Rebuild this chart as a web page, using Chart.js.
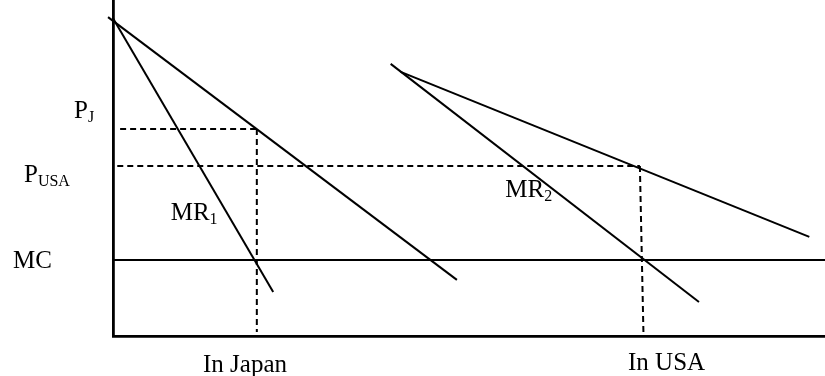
<!DOCTYPE html>
<html>
<head>
<meta charset="utf-8">
<script src="https://cdn.jsdelivr.net/npm/chart.js@4"></script>
<style>
  html, body { margin: 0; padding: 0; background: #fff; }
  #wrap { width: 825px; height: 376px; }
</style>
</head>
<body>
<div id="wrap"><canvas id="chart" width="825" height="376"></canvas></div>
<script>
// quantity (x) and price (y) values, both on 0-100
const PRICE_J = 61.6;
const PRICE_USA = 50.6;
const MC_LEVEL = 22.6;
const Q_JAPAN = 20.2;
const Q_USA = [74.0, 74.5]; // top, bottom of the dashed drop line

const demandJapanQ = [-0.7, 48.3];
const demandJapanP = [94.9, 16.7];
const mrJapanQ = [0, 22.5];
const mrJapanP = [94.6, 13.1];
const demandUsaQ = [40.4, 97.8];
const demandUsaP = [78.6, 29.5];
const mrUsaQ = [39.0, 82.3];
const mrUsaP = [81.0, 10.1];

const toPoints = (qs, ps) => qs.map((q, i) => ({ x: q, y: ps[i] }));

// curve labels: [main, subscript, q, p]
const curveLabels = [
  ['MR', '1', 8.1, 34.5],
  ['MR', '2', 55.1, 41.4],
];

function solid(data) {
  return { data, showLine: true, borderColor: '#000', borderWidth: 2, pointRadius: 0, clip: false };
}
function dashed(data) {
  return { ...solid(data), borderWidth: 2, borderDash: [6, 4] };
}

// ─── text labels with subscripts ─────────────────────────────────────────────
function drawSub(ctx, main, sub, x, y) {
  ctx.font = '25px "Liberation Serif", "Times New Roman", serif';
  ctx.fillText(main, x, y);
  const w = ctx.measureText(main).width;
  if (sub) {
    ctx.font = '16px "Liberation Serif", "Times New Roman", serif';
    ctx.fillText(sub, x + w, y + 4);
  }
}

const labelPlugin = {
  id: 'labels',
  afterDraw(chart) {
    const { ctx, scales: { x, y }, chartArea } = chart;
    ctx.save();
    ctx.fillStyle = '#000';
    ctx.textBaseline = 'alphabetic';
    ctx.textAlign = 'left';
    drawSub(ctx, 'P', 'J', 74, y.getPixelForValue(PRICE_J) - 11);
    drawSub(ctx, 'P', 'USA', 24, y.getPixelForValue(PRICE_USA) + 16);
    drawSub(ctx, 'MC', '', 13, y.getPixelForValue(MC_LEVEL) + 8);
    curveLabels.forEach(([m, s, q, p]) => drawSub(ctx, m, s, x.getPixelForValue(q), y.getPixelForValue(p)));
    drawSub(ctx, 'In Japan', '', 203, chartArea.bottom + 36);
    drawSub(ctx, 'In USA', '', 628, chartArea.bottom + 34);
    ctx.restore();
  },
};

new Chart(document.getElementById('chart').getContext('2d'), {
  type: 'scatter',
  data: {
    datasets: [
      solid(toPoints(demandJapanQ, demandJapanP)),
      solid(toPoints(mrJapanQ, mrJapanP)),
      solid(toPoints(demandUsaQ, demandUsaP)),
      solid(toPoints(mrUsaQ, mrUsaP)),
      solid([{ x: 0, y: MC_LEVEL }, { x: 100, y: MC_LEVEL }]),
      dashed([{ x: 1.0, y: PRICE_J }, { x: Q_JAPAN, y: PRICE_J }]),
      dashed([{ x: Q_JAPAN, y: PRICE_J }, { x: Q_JAPAN, y: 1.2 }]),
      dashed([{ x: 0.6, y: PRICE_USA }, { x: Q_USA[0], y: PRICE_USA }]),
      dashed([{ x: Q_USA[0], y: PRICE_USA }, { x: Q_USA[1], y: 0.9 }]),
    ],
  },
  options: {
    responsive: false,
    animation: false,
    layout: { padding: { left: 113, bottom: 40, top: 0, right: 0 } },
    plugins: { legend: { display: false }, tooltip: { enabled: false } },
    scales: {
      x: {
        min: 0, max: 100,
        ticks: { display: false },
        grid: { display: false, drawTicks: false },
        border: { display: true, color: '#000', width: 2.8 },
      },
      y: {
        min: 0, max: 100,
        ticks: { display: false },
        grid: { display: false, drawTicks: false },
        border: { display: true, color: '#000', width: 2.8 },
      },
    },
  },
  plugins: [labelPlugin],
});
</script>
</body>
</html>
